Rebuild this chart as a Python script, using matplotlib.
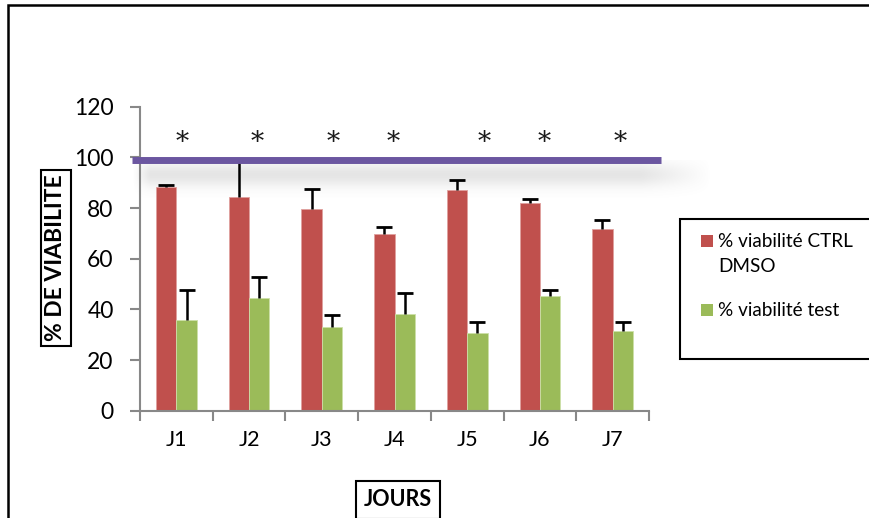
import numpy as np
import matplotlib
matplotlib.use("Agg")
import matplotlib.pyplot as plt
from matplotlib.patches import Rectangle

plt.rcParams['font.family'] = ['Lato', 'DejaVu Sans']

# Viability data per day
jours = ['J1', 'J2', 'J3', 'J4', 'J5', 'J6', 'J7']
ctrl = [88.4, 84.5, 79.5, 69.8, 87.1, 81.9, 71.6]
ctrl_err = [0.7, 14.3, 8.1, 2.9, 4.1, 1.7, 3.6]
test = [35.8, 44.5, 32.9, 38.3, 30.5, 45.3, 31.5]
test_err = [11.7, 8.4, 4.8, 8.0, 4.4, 2.3, 3.6]
ref_level = 98.8
star_x = [0.08, 1.11, 2.15, 2.98, 4.23, 5.06, 6.10]
star_y = 106

W, H = 869, 518
fig = plt.figure(figsize=(W / 100, H / 100), dpi=100)

# soft shadow under the reference line
sh = fig.add_axes([132 / W, 1 - 198 / H, 580 / W, 38 / H], zorder=0)
yy = np.linspace(0, 1, 80)[:, None]
xx = np.linspace(0, 1, 300)[None, :]
a_v = np.exp(-((yy - 0.38) / 0.33) ** 2)
a_h = np.clip(np.minimum(xx / 0.03, (1 - xx) / 0.12), 0, 1)
rgba = np.zeros((80, 300, 4))
rgba[..., :3] = 0.5
rgba[..., 3] = 0.2 * a_v * a_h
sh.imshow(rgba, aspect='auto', extent=[0, 1, 0, 1], interpolation='bilinear')
sh.axis('off')

ax = fig.add_axes([140 / W, 107.3 / H, 509 / W, 304 / H], zorder=1)
ax.patch.set_alpha(0)

x = np.arange(len(jours))
bw = 0.28
ax.bar(x - bw / 2, ctrl, bw, color='#C0504D', edgecolor='#E0A09E', linewidth=0.6,
       label='% viabilité CTRL\nDMSO')
ax.bar(x + bw / 2, test, bw, color='#9BBB59', edgecolor='#CDE0A8', linewidth=0.6,
       label='% viabilité test')

# upper-only error bars
for xs, vals, errs in [(x - bw / 2, ctrl, ctrl_err), (x + bw / 2, test, test_err)]:
    tops = np.array(vals) + np.array(errs)
    ax.vlines(xs, vals, tops, color='black', lw=1.8, zorder=3)
    ax.plot(xs, tops, ls='none', marker='_', ms=12, mew=2, color='black', zorder=3)

ax.plot([-0.615, 6.67], [ref_level, ref_level], color='#6B56A0', lw=5,
        solid_capstyle='butt', clip_on=False, zorder=5)
for sx in star_x:
    ax.text(sx, star_y, '*', ha='center', va='center', fontsize=19,
            family='DejaVu Serif', color='#1a1a1a')

ax.set_xlim(-0.5, 6.5)
ax.set_ylim(0, 120)
ax.set_yticks(range(0, 121, 20))
ax.set_xticks(np.arange(-0.5, 7, 1))
ax.set_xticklabels([])
ax.set_xticks(x, minor=True)
ax.set_xticklabels(jours, minor=True)
ax.tick_params(axis='x', which='minor', length=0, pad=14, labelsize=15.5)
ax.tick_params(axis='x', which='major', length=7, width=1.5, color='#888888')
ax.tick_params(axis='y', length=7, width=1.5, color='#888888', labelsize=16.5, pad=12)
for s in ['top', 'right']:
    ax.spines[s].set_visible(False)
for s in ['left', 'bottom']:
    ax.spines[s].set_color('#888888')
    ax.spines[s].set_linewidth(1.5)

fig.text(56 / W, 1 - 258 / H, '% DE VIABILITE', rotation=90, ha='center', va='center',
         fontsize=16.5, fontweight='bold',
         bbox=dict(boxstyle='square,pad=0.2', fc='white', ec='black', lw=1.5))
fig.text(398 / W, 1 - 500 / H, 'JOURS', ha='center', va='center',
         fontsize=15.5, fontweight='bold',
         bbox=dict(boxstyle='square,pad=0.38', fc='white', ec='black', lw=1.5))

# legend box running off the right edge
fig.patches.append(Rectangle((680 / W, 1 - 359 / H), 0.3, 140 / H, transform=fig.transFigure,
                             fc='white', ec='black', lw=1.5, zorder=2))
fig.patches.append(Rectangle((701 / W, 1 - 247 / H), 12 / W, 12 / H, transform=fig.transFigure,
                             fc='#C0504D', ec='none', zorder=3))
fig.patches.append(Rectangle((701 / W, 1 - 316 / H), 12 / W, 12 / H, transform=fig.transFigure,
                             fc='#9BBB59', ec='none', zorder=3))
fig.text(718 / W, 1 - 241 / H, '% viabilité CTRL', ha='left', va='center', fontsize=13.6, zorder=4)
fig.text(718 / W, 1 - 267 / H, 'DMSO', ha='left', va='center', fontsize=13.6, zorder=4)
fig.text(718 / W, 1 - 310 / H, '% viabilité test', ha='left', va='center', fontsize=13.6, zorder=4)

# outer frame
fig.patches.append(Rectangle((8 / W, -0.1), 1.2, 1.1 - 5.5 / H, transform=fig.transFigure,
                             fill=False, ec='black', lw=1.8, zorder=10))

fig.savefig('out.png', dpi=100)
